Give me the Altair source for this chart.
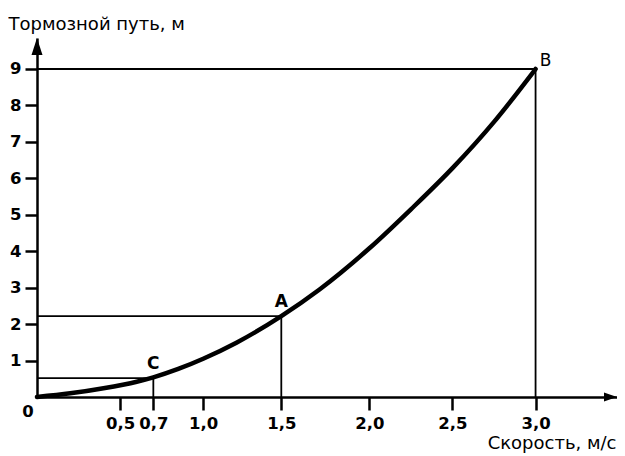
import altair as alt
import pandas as pd

# Curve: speed (m/s) -> braking distance (m)
speed = [0, 0.2, 0.4, 0.6, 0.7, 0.85, 1.0, 1.2, 1.47, 1.7, 2.0, 2.25, 2.5, 2.75, 3.0]
distance = [0, 0.10, 0.24, 0.42, 0.54, 0.77, 1.05, 1.49, 2.22, 2.95, 4.08, 5.15, 6.28, 7.55, 9.0]

# Marked points
point_names = ["C", "A", "B"]
point_speed = [0.70, 1.47, 3.0]
point_distance = [0.52, 2.22, 9.0]

# Axis ticks
x_ticks = [0.5, 0.7, 1.0, 1.47, 2.0, 2.5, 3.0]
y_ticks = [1, 2, 3, 4, 5, 6, 7, 8, 9]
x_max = 3.49
y_max = 9.85

W, H = 580, 359
PX_X = W / x_max
PX_Y = H / y_max

FONT = "DejaVu Sans"

curve_df = pd.DataFrame({"x": speed, "y": distance})
pts_df = pd.DataFrame({"name": point_names, "x": point_speed, "y": point_distance})

seg_rows = []
for n, px, py in zip(point_names, point_speed, point_distance):
    seg_rows.append({"x": 0, "x2": px, "y": py, "y2": py})
    seg_rows.append({"x": px, "x2": px, "y": 0, "y2": py})
seg_df = pd.DataFrame(seg_rows)

x_axis = alt.Axis(
    values=x_ticks,
    labelExpr="replace(format(datum.value, '.1f'), '.', ',')",
    title="Скорость, м/с",
    titleAngle=0, titleAlign="right", titleBaseline="alphabetic",
    titleX=579, titleY=51,
    titleFont=FONT, titleFontSize=18, titleFontWeight="normal", titleColor="black",
    domainColor="black", domainWidth=2.5,
    tickColor="black", tickWidth=2.5, tickSize=13,
    labelFont=FONT, labelFontSize=16.5, labelFontWeight="bold", labelColor="black",
    labelPadding=5, grid=False, labelFlush=False, labelOverlap=False,
)
y_axis = alt.Axis(
    values=y_ticks, format="d",
    title="Тормозной путь, м",
    titleAngle=0, titleAlign="left", titleBaseline="alphabetic",
    titleX=-29, titleY=-9,
    titleFont=FONT, titleFontSize=18, titleFontWeight="normal", titleColor="black",
    domainColor="black", domainWidth=2.5,
    tickColor="black", tickWidth=2.5, tickSize=12,
    labelFont=FONT, labelFontSize=16.5, labelFontWeight="bold", labelColor="black",
    labelPadding=4, grid=False, labelFlush=False, labelOverlap=False,
)

X = alt.X("x:Q", scale=alt.Scale(domain=[0, x_max], nice=False, zero=False), axis=x_axis)
Y = alt.Y("y:Q", scale=alt.Scale(domain=[0, y_max], nice=False, zero=False), axis=y_axis)

segments = alt.Chart(seg_df).mark_rule(color="black", strokeWidth=1.8).encode(
    x=X, x2="x2:Q", y=Y, y2="y2:Q"
)

curve = alt.Chart(curve_df).mark_line(
    color="black", strokeWidth=4.5, interpolate="monotone", strokeCap="round"
).encode(x=X, y=Y)

labels_ac = alt.Chart(pts_df[pts_df["name"] != "B"]).mark_text(
    font=FONT, fontSize=17, fontWeight="bold", color="black", dy=-14, baseline="middle"
).encode(x=X, y=Y, text="name:N")

labels_b = alt.Chart(pts_df[pts_df["name"] == "B"]).mark_text(
    font=FONT, fontSize=17, color="black", dx=10, dy=-8, baseline="middle"
).encode(x=X, y=Y, text="name:N")

origin_df = pd.DataFrame({"x": [0], "y": [0], "t": ["0"]})
origin = alt.Chart(origin_df).mark_text(
    font=FONT, fontSize=16.5, fontWeight="bold", color="black", dx=-9, dy=15, baseline="middle"
).encode(x=X, y=Y, text="t:N")

# Arrow heads at the ends of the axes (triangles in data space)
arrow_up_df = pd.DataFrame({
    "y": [y_max, y_max - 17 / PX_Y],
    "x": [0, -5.5 / PX_X],
    "x2": [0, 5.5 / PX_X],
})
arrow_right_df = pd.DataFrame({
    "x": [x_max - 13 / PX_X, x_max],
    "y": [-4.5 / PX_Y, 0],
    "y2": [4.5 / PX_Y, 0],
})
arrow_up = alt.Chart(arrow_up_df).mark_area(
    color="black", opacity=1, orient="horizontal"
).encode(y=Y, x=X, x2="x2:Q")
arrow_right = alt.Chart(arrow_right_df).mark_area(
    color="black", opacity=1, orient="vertical"
).encode(x=X, y=Y, y2="y2:Q")

chart = alt.layer(
    segments, curve, labels_ac, labels_b, origin, arrow_up, arrow_right
).properties(
    width=W, height=H,
    autosize=alt.AutoSizeParams(type="none"),
    padding={"left": 29, "top": 30, "right": 0, "bottom": 56},
    background="white",
).configure_view(stroke=None)

chart.save("out.html", embed_options={"renderer": "svg", "actions": False})
